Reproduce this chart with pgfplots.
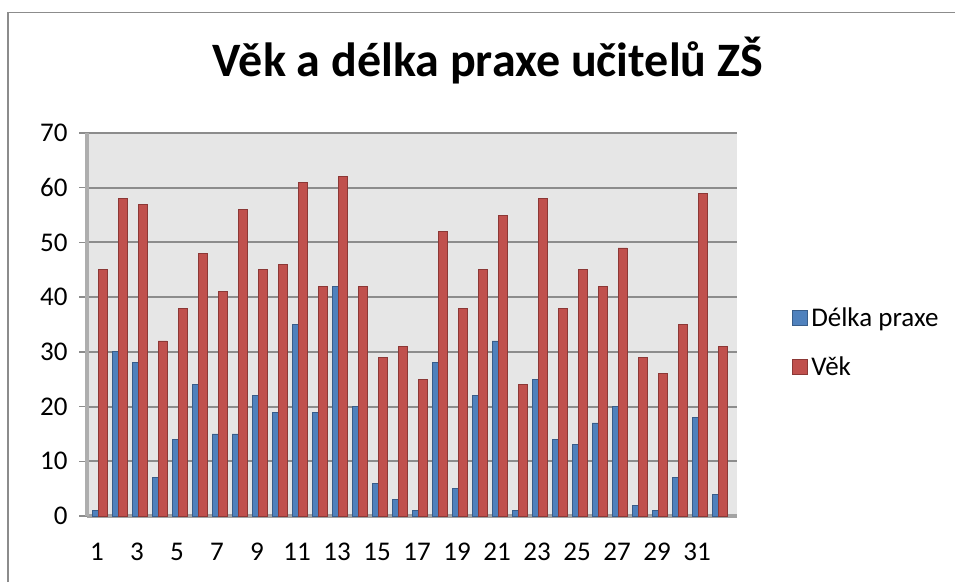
\documentclass[border=0pt]{standalone}
\usepackage{pgfplots}
\pgfplotsset{compat=1.18}
\usepackage{fontspec}
\setmainfont{Carlito}
\definecolor{blueF}{HTML}{4F81BD}
\definecolor{blueD}{HTML}{385D8A}
\definecolor{redF}{HTML}{C0504D}
\definecolor{redD}{HTML}{8C3836}
\definecolor{bgG}{HTML}{E6E6E6}
\definecolor{gridG}{HTML}{8C8C8C}
\definecolor{frameG}{HTML}{8C8C8C}
\pgfplotstableread{
x praxe vek
1 1 45
2 30 58
3 28 57
4 7 32
5 14 38
6 24 48
7 15 41
8 15 56
9 22 45
10 19 46
11 35 61
12 19 42
13 42 62
14 20 42
15 6 29
16 3 31
17 1 25
18 28 52
19 5 38
20 22 45
21 32 55
22 1 24
23 25 58
24 14 38
25 13 45
26 17 42
27 20 49
28 2 29
29 1 26
30 7 35
31 18 59
32 4 31
}\datatable
\begin{document}
\begin{tikzpicture}[x=1pt,y=1pt]
\useasboundingbox (0,0) rectangle (955,582);
\draw[frameG, line width=1.5pt] (8,0) -- (8,569.5) -- (960,569.5);
\node[anchor=base, font=\fontsize{48}{56}\selectfont\bfseries] at (488,505) {Věk a délka praxe učitelů ZŠ};
\begin{axis}[
  at={(87pt,66pt)}, anchor=south west,
  scale only axis, width=650pt, height=383pt,
  xmin=0.5, xmax=33, ymin=0, ymax=70,
  axis x line*=bottom, axis y line*=left,
  axis background/.style={fill=bgG},
  ytick={0,10,...,70},
  ymajorgrids, grid style={gridG, line width=2pt},
  xtick={1,3,...,31},
  minor xtick={0.5,1.5,...,32.5},
  xtick style={draw=none},
  minor x tick style={gridG, line width=1.5pt},
  ytick style={gridG, line width=1.5pt},
  tick align=outside,
  major tick length=8pt, minor tick length=9pt,
  x axis line style={gridG!80, line width=3.5pt, -},
  y axis line style={gridG!70, line width=3.5pt, -},
  ticklabel style={font=\fontsize{27}{32}\selectfont},
  /pgf/number format/assume math mode=true,
  yticklabel style={xshift=-8pt},
  xticklabel style={anchor=north, text height=18pt, text depth=0pt, yshift=-15pt},
  legend style={at={(1.085,0.454)}, anchor=west, draw=none, fill=none,
    font=\fontsize{27}{32}\selectfont, row sep=25pt, inner sep=0pt,
    nodes={inner xsep=3pt}, legend cell align=left},
  legend image code/.code={\draw[#1, line width=0.8pt] (0pt,-7.5pt) rectangle (15pt,7.5pt);},
]
\addplot[ybar, bar width=6pt, bar shift=-2pt, fill=blueF, draw=blueD, line width=0.8pt] table[x=x, y=praxe] {\datatable};
\addlegendentry{Délka praxe}
\addplot[ybar, bar width=9pt, bar shift=5.5pt, fill=redF, draw=redD, line width=0.8pt] table[x=x, y=vek] {\datatable};
\addlegendentry{Věk}
\end{axis}
\end{tikzpicture}
\end{document}
